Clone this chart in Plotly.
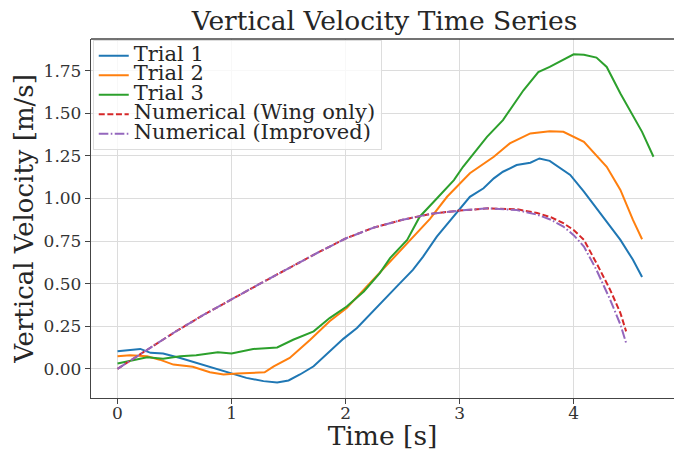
import plotly.graph_objects as go

# ---- data ----
t1 = [0.0, 0.1, 0.2, 0.29, 0.4, 0.55, 0.69, 0.84, 0.99, 1.13, 1.28, 1.40, 1.50, 1.60, 1.72, 1.86,
      1.98, 2.10, 2.30, 2.45, 2.59, 2.68, 2.80, 2.92, 3.09, 3.21, 3.30, 3.38, 3.50, 3.62, 3.70,
      3.79, 3.97, 4.09, 4.26, 4.41, 4.52, 4.60]
v1 = [0.103, 0.110, 0.117, 0.094, 0.090, 0.064, 0.035, 0.006, -0.023, -0.053, -0.072, -0.080,
      -0.068, -0.033, 0.015, 0.103, 0.176, 0.240, 0.376, 0.484, 0.581, 0.659, 0.776, 0.874,
      1.010, 1.060, 1.118, 1.157, 1.196, 1.210, 1.235, 1.221, 1.138, 1.040, 0.893, 0.757,
      0.640, 0.539]

t2 = [0.0, 0.11, 0.26, 0.37, 0.49, 0.66, 0.81, 0.93, 1.05, 1.29, 1.37, 1.51, 1.69, 1.86, 2.01,
      2.16, 2.30, 2.57, 2.74, 2.89, 3.09, 3.30, 3.44, 3.62, 3.79, 3.91, 4.09, 4.29, 4.41, 4.52,
      4.60]
v2 = [0.074, 0.080, 0.074, 0.054, 0.025, 0.012, -0.020, -0.033, -0.027, -0.020, 0.015, 0.064,
      0.171, 0.279, 0.357, 0.464, 0.570, 0.757, 0.880, 1.010, 1.148, 1.245, 1.323, 1.382,
      1.395, 1.391, 1.333, 1.186, 1.050, 0.874, 0.761]

t3 = [0.0, 0.11, 0.26, 0.40, 0.55, 0.69, 0.88, 1.0, 1.19, 1.40, 1.54, 1.72, 1.86, 2.01, 2.16,
      2.30, 2.39, 2.54, 2.65, 2.80, 2.95, 3.03, 3.24, 3.38, 3.56, 3.69, 3.79, 4.0, 4.09, 4.2,
      4.29, 4.41, 4.50, 4.60, 4.70]
v3 = [0.031, 0.045, 0.068, 0.060, 0.074, 0.080, 0.097, 0.090, 0.117, 0.126, 0.171, 0.220,
      0.298, 0.366, 0.454, 0.562, 0.650, 0.757, 0.893, 1.000, 1.108, 1.186, 1.362, 1.460,
      1.635, 1.742, 1.772, 1.846, 1.844, 1.827, 1.772, 1.616, 1.508, 1.391, 1.245]

t_num = [0.0, 0.25, 0.5, 0.75, 1.0, 1.25, 1.5, 1.75, 2.0, 2.25, 2.5, 2.75, 3.0, 3.25, 3.5,
         3.68, 3.8, 3.91, 4.0, 4.09, 4.2, 4.32, 4.41, 4.46]
v_wing = [0.0, 0.11, 0.215, 0.315, 0.41, 0.50, 0.59, 0.68, 0.765, 0.83, 0.875, 0.91, 0.929,
          0.942, 0.937, 0.915, 0.89, 0.855, 0.815, 0.757, 0.621, 0.464, 0.328, 0.22]
v_impr = [0.0, 0.11, 0.215, 0.315, 0.41, 0.50, 0.59, 0.68, 0.765, 0.83, 0.875, 0.91, 0.929,
          0.942, 0.932, 0.905, 0.875, 0.835, 0.785, 0.718, 0.581, 0.406, 0.26, 0.152]

names = ["Trial 1", "Trial 2", "Trial 3", "Numerical (Wing only)", "Numerical (Improved)"]
colors = ["#1f77b4", "#ff7f0e", "#2ca02c", "#d62728", "#9467bd"]

FONT = "DejaVu Serif"

fig = go.Figure()
series = [(t1, v1, "solid"), (t2, v2, "solid"), (t3, v3, "solid"),
          (t_num, v_wing, "6px,2.6px"), (t_num, v_impr, "9.6px,2.4px,1.6px,2.4px")]
for (x, y, dash), name, c in zip(series, names, colors):
    fig.add_trace(go.Scatter(x=x, y=y, mode="lines",
                             name='<span style="font-size:21px">' + name + "</span>",
                             line=dict(color=c, width=2, dash=dash)))

fig.update_layout(
    width=674, height=451,
    margin=dict(l=91, r=0, t=39, b=53),
    paper_bgcolor="white", plot_bgcolor="white",
    font=dict(family=FONT, color="#262626"),
    title=dict(text="Vertical Velocity Time Series", font=dict(family=FONT, size=26.5, color="#262626"),
               x=0.5705, xref="container", xanchor="center",
               y=0.955, yref="container", yanchor="middle"),
    legend=dict(x=0.003, y=0.997, xanchor="left", yanchor="top",
                bgcolor="rgba(255,255,255,0.8)", bordercolor="#dddddd", borderwidth=1,
                font=dict(family=FONT, size=12.7, color="#262626"),
                itemwidth=30, tracegroupgap=0),
    showlegend=True,
)
fig.update_xaxes(range=[-0.2325, 4.88], tickvals=[0, 1, 2, 3, 4],
                 showgrid=True, gridcolor="#dcdcdc", gridwidth=1, zeroline=False,
                 showline=True, linecolor="#444444", linewidth=1.3,
                 ticks="outside", ticklen=5, tickcolor="#444444", ticklabelstandoff=-6,
                 tickfont=dict(family=FONT, size=17, color="#333333"),
                 title=dict(text="Time [s]", font=dict(family=FONT, size=26.5, color="#262626"),
                            standoff=0))
fig.update_yaxes(range=[-0.171, 1.936], tickvals=[0, 0.25, 0.5, 0.75, 1.0, 1.25, 1.5, 1.75],
                 tickformat=".2f",
                 showgrid=True, gridcolor="#dcdcdc", gridwidth=1, zeroline=False,
                 showline=True, linecolor="#444444", linewidth=1.3,
                 ticks="outside", ticklen=5, tickcolor="#444444",
                 tickfont=dict(family=FONT, size=17, color="#333333"),
                 title=dict(text="Vertical Velocity [m/s]", font=dict(family=FONT, size=26, color="#262626"),
                            standoff=2))
# top spine
fig.add_shape(type="line", xref="paper", yref="paper", x0=0, x1=1, y0=1, y1=1,
              line=dict(color="#444444", width=1.3), layer="above")

fig.write_html("out.html")
